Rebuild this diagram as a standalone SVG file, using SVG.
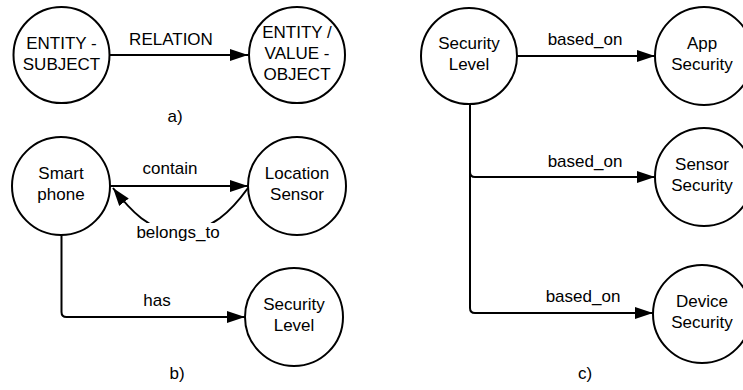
<svg xmlns="http://www.w3.org/2000/svg" width="743" height="390" viewBox="0 0 743 390">
  <style>
    .node { fill: #ffffff; stroke: #000000; stroke-width: 2; }
    .edge { fill: none; stroke: #000000; stroke-width: 2; }
    text { font-family: "Liberation Sans", Arial, sans-serif; font-size: 17px; fill: #000000; text-anchor: middle; }
  </style>
  <defs>
    <marker id="arrow" markerUnits="userSpaceOnUse" markerWidth="18" markerHeight="12" refX="18" refY="6" orient="auto">
      <path d="M0,0 L18,6 L0,12 z" fill="#000000"/>
    </marker>
  </defs>

  <rect width="743" height="390" fill="#ffffff"/>

  <!-- connectors -->
  <g id="connectors">
    <!-- a) -->
    <path class="edge" d="M110,55 L248,55" marker-end="url(#arrow)"/>
    <text x="171" y="45">RELATION</text>

    <!-- b) -->
    <path class="edge" d="M110,186 L248,186" marker-end="url(#arrow)"/>
    <text x="170" y="174">contain</text>
    <path class="edge" d="M248,188 C232,210 212,232 178,232 C150,232 130,210 113,188" marker-end="url(#arrow)"/>
    <rect x="137" y="223" width="83" height="20" fill="#ffffff"/>
    <text x="178" y="238">belongs_to</text>
    <path class="edge" d="M61.5,235 L61.5,312 Q61.5,317 66.5,317 L245,317" marker-end="url(#arrow)"/>
    <text x="157" y="306">has</text>

    <!-- c) -->
    <path class="edge" d="M517,56 L655,56" marker-end="url(#arrow)"/>
    <text x="585" y="45">based_on</text>
    <path class="edge" d="M470,104 L470,172 Q470,177 475,177 L655,177" marker-end="url(#arrow)"/>
    <text x="585" y="167">based_on</text>
    <path class="edge" d="M470,104 L470,308 Q470,313 475,313 L653,313" marker-end="url(#arrow)"/>
    <text x="583" y="302">based_on</text>
  </g>

  <!-- a) nodes -->
  <g id="entity-subject">
    <circle class="node" cx="61.5" cy="55" r="48"/>
    <text x="61.5" y="49">ENTITY -</text>
    <text x="61.5" y="70">SUBJECT</text>
  </g>
  <g id="entity-value-object">
    <circle class="node" cx="297" cy="55" r="48"/>
    <text x="297" y="38">ENTITY /</text>
    <text x="297" y="59">VALUE -</text>
    <text x="297" y="80">OBJECT</text>
  </g>
  <text x="175" y="122">a)</text>

  <!-- b) nodes -->
  <g id="smart-phone">
    <circle class="node" cx="61" cy="186" r="49"/>
    <text x="61" y="179">Smart</text>
    <text x="61" y="200">phone</text>
  </g>
  <g id="location-sensor">
    <circle class="node" cx="297" cy="186" r="49"/>
    <text x="297" y="179">Location</text>
    <text x="297" y="200">Sensor</text>
  </g>
  <g id="security-level-b">
    <circle class="node" cx="294" cy="317" r="49"/>
    <text x="294" y="310">Security</text>
    <text x="294" y="331">Level</text>
  </g>
  <text x="177" y="379">b)</text>

  <!-- c) nodes -->
  <g id="security-level-c">
    <circle class="node" cx="469" cy="56" r="48"/>
    <text x="469" y="49">Security</text>
    <text x="469" y="70">Level</text>
  </g>
  <g id="app-security">
    <circle class="node" cx="704" cy="56" r="49"/>
    <text x="702" y="49">App</text>
    <text x="702" y="70">Security</text>
  </g>
  <g id="sensor-security">
    <circle class="node" cx="704" cy="177" r="49"/>
    <text x="702" y="170">Sensor</text>
    <text x="702" y="191">Security</text>
  </g>
  <g id="device-security">
    <circle class="node" cx="702" cy="314" r="49"/>
    <text x="702" y="307">Device</text>
    <text x="702" y="328">Security</text>
  </g>
  <text x="585" y="379">c)</text>
</svg>
